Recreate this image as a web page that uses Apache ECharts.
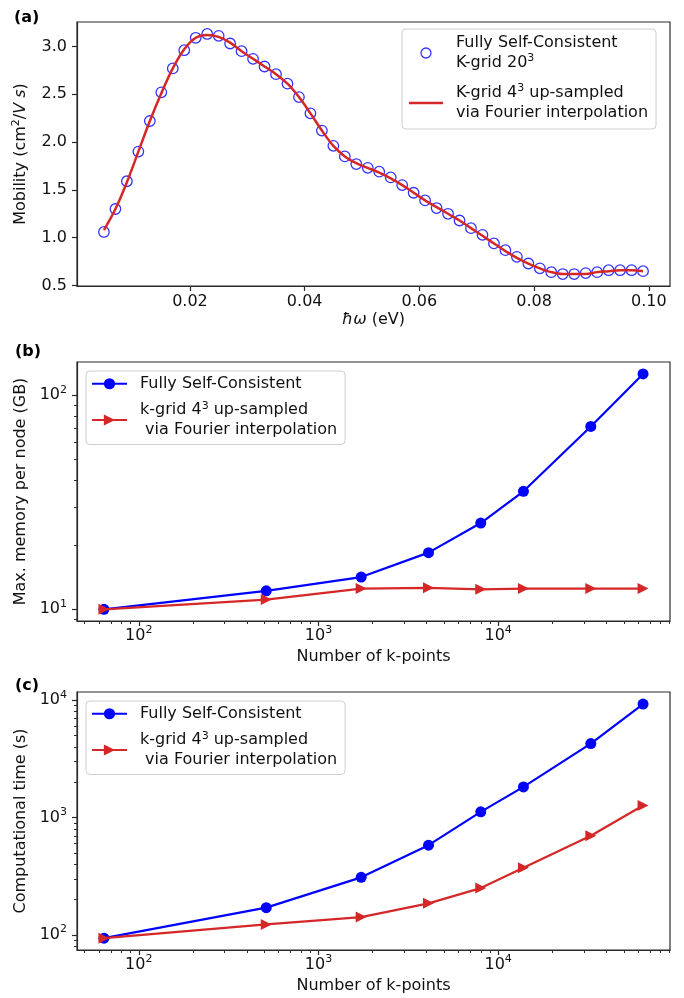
<!DOCTYPE html>
<html>
<head>
<meta charset="utf-8">
<script src="https://cdn.jsdelivr.net/npm/echarts@6/dist/echarts.min.js"></script>
<style>
  html, body { margin: 0; padding: 0; background: #ffffff; }
  #chart { width: 684px; height: 998px; }
</style>
</head>
<body>
<div id="chart"></div>
<script>
// (a) mobility versus phonon energy
const photonEnergy = [0.005, 0.007, 0.009, 0.011, 0.013, 0.015, 0.017, 0.019, 0.021, 0.023,
  0.025, 0.027, 0.029, 0.031, 0.033, 0.035, 0.037, 0.039, 0.041, 0.043,
  0.045, 0.047, 0.049, 0.051, 0.053, 0.055, 0.057, 0.059, 0.061, 0.063,
  0.065, 0.067, 0.069, 0.071, 0.073, 0.075, 0.077, 0.079, 0.081, 0.083,
  0.085, 0.087, 0.089, 0.091, 0.093, 0.095, 0.097, 0.099];
const mobilitySelfConsistent = [1.06, 1.30, 1.59, 1.90, 2.22, 2.52, 2.77, 2.96, 3.09, 3.13,
  3.11, 3.03, 2.95, 2.87, 2.79, 2.71, 2.61, 2.47, 2.30, 2.12,
  1.96, 1.85, 1.77, 1.73, 1.69, 1.63, 1.55, 1.47, 1.39, 1.31,
  1.25, 1.18, 1.10, 1.03, 0.94, 0.87, 0.80, 0.73, 0.68, 0.64,
  0.62, 0.62, 0.63, 0.64, 0.66, 0.66, 0.66, 0.65];
const mobilityFourier = [1.08, 1.30, 1.58, 1.90, 2.22, 2.51, 2.77, 2.97, 3.09, 3.12,
  3.10, 3.04, 2.95, 2.87, 2.79, 2.71, 2.61, 2.47, 2.30, 2.12,
  1.96, 1.85, 1.78, 1.73, 1.68, 1.62, 1.55, 1.47, 1.39, 1.32,
  1.25, 1.18, 1.10, 1.02, 0.94, 0.86, 0.79, 0.73, 0.68, 0.64,
  0.62, 0.62, 0.62, 0.64, 0.65, 0.66, 0.66, 0.65];

// (b), (c) cost versus k-point count
const kPoints = [64, 512, 1728, 4096, 8000, 13824, 32768, 64000];
const memorySelfConsistent = [10.0, 12.2, 14.15, 18.4, 25.3, 35.6, 71.5, 125.8];
const memoryFourier = [10.0, 11.1, 12.5, 12.6, 12.4, 12.5, 12.5, 12.5];
const timeSelfConsistent = [94, 171, 310, 583, 1120, 1828, 4276, 9290];
const timeFourier = [94, 123, 142, 186, 251, 374, 700, 1270];

// tick positions
const energyTicks = [0.02, 0.04, 0.06, 0.08, 0.10];
const mobilityTicks = [0.5, 1.0, 1.5, 2.0, 2.5, 3.0];
const kPointTicks = [100, 1000, 10000];
const kPointMinorTicks = [50, 60, 70, 80, 90,
  200, 300, 400, 500, 600, 700, 800, 900,
  2000, 3000, 4000, 5000, 6000, 7000, 8000, 9000,
  20000, 30000, 40000, 50000, 60000, 70000, 80000, 90000];
const memoryTicks = [10, 100];
const memoryMinorTicks = [9, 20, 30, 40, 50, 60, 70, 80, 90];
const timeTicks = [100, 1000, 10000];
const timeMinorTicks = [80, 90, 200, 300, 400, 500, 600, 700, 800, 900,
  2000, 3000, 4000, 5000, 6000, 7000, 8000, 9000];

const nameA1 = 'Fully Self-Consistent\nK-grid 20³';
const nameA2 = 'K-grid 4³ up-sampled\nvia Fourier interpolation';
const nameB1 = 'Fully Self-Consistent';
const nameB2 = 'k-grid 4³ up-sampled\n via Fourier interpolation';

const FONT = '"DejaVu Sans", sans-serif';
const INK = '#111111';
const SPINE = '#2a2a2a';
const BLUE = '#0000ff';
const RED = '#d62728';
const TRIANGLE_RIGHT = 'path://M0,0L10,5L0,10Z';

const zip = (xs, ys) => xs.map((x, i) => [x, ys[i]]);

// rich-text styles: body text plus a raised, smaller superscript
const SUP_DIGITS = { '²': '2', '³': '3' };
function richSup(lineHeight) {
  return {
    t: { color: INK, fontFamily: FONT, fontSize: 16, lineHeight: lineHeight },
    i: { color: INK, fontFamily: FONT, fontSize: 16, fontStyle: 'italic', lineHeight: lineHeight },
    s: { color: INK, fontFamily: FONT, fontSize: 11, lineHeight: 11, verticalAlign: 'top' }
  };
}
function toRich(text) {
  return text.split('\n').map(line =>
    line.split(/([²³])/).filter(p => p !== '').map(p =>
      SUP_DIGITS[p] ? '{s|' + SUP_DIGITS[p] + '}' : '{t|' + p + '}'
    ).join('')
  ).join('\n');
}
const powerLabel = v => '{t|10}{s|' + Math.round(Math.log10(v)) + '}';

const tickLine = { color: SPINE, width: 1.2 };

function mainAxis(opts) {
  return Object.assign({
    axisLine: { show: true, onZero: false, lineStyle: tickLine },
    axisTick: { show: true, inside: false, length: 5, lineStyle: tickLine, customValues: opts.ticks },
    axisLabel: {
      customValues: opts.ticks, formatter: opts.fmt, margin: opts.margin,
      color: INK, fontFamily: FONT, fontSize: 16, rich: richSup(opts.labelLine || 16)
    },
    splitLine: { show: false },
    minorTick: { show: false },
    nameTextStyle: { color: INK, fontFamily: FONT, fontSize: 16, rich: richSup(20) }
  }, opts.extra);
}

function minorAxis(opts) {
  return Object.assign({
    type: 'log', logBase: 10,
    axisLine: { show: false, onZero: false },
    axisTick: { show: true, inside: false, length: 3, lineStyle: { color: SPINE, width: 1 }, customValues: opts.ticks },
    axisLabel: { show: false },
    splitLine: { show: false }
  }, opts.extra);
}

const legendCommon = {
  orient: 'vertical',
  backgroundColor: 'rgba(255,255,255,0.8)',
  borderColor: '#cfcfcf',
  borderWidth: 1,
  borderRadius: 4,
  selectedMode: false,
  formatter: name => toRich(name)
};
function legendText(lineHeight) {
  return { color: '#000', fontFamily: FONT, fontSize: 16, lineHeight: lineHeight,
    padding: [0, 0, 0, 8], rich: richSup(lineHeight) };
}

const option = {
  animation: false,
  backgroundColor: '#ffffff',
  textStyle: { fontFamily: FONT },
  grid: [
    { left: 77, top: 22, width: 593, height: 264, show: true, borderColor: SPINE, borderWidth: 1.2, outerBoundsMode: 'none', containLabel: false },
    { left: 77, top: 362, width: 593, height: 259, show: true, borderColor: SPINE, borderWidth: 1.2, outerBoundsMode: 'none', containLabel: false },
    { left: 77, top: 692, width: 593, height: 258, show: true, borderColor: SPINE, borderWidth: 1.2, outerBoundsMode: 'none', containLabel: false }
  ],
  xAxis: [
    mainAxis({ ticks: energyTicks, fmt: v => '{t|' + v.toFixed(2) + '}', margin: 8, extra: {
      gridIndex: 0, type: 'value', position: 'bottom', min: 0.0003, max: 0.1037,
      name: '{i|ħω}{t| (eV)}', nameLocation: 'middle', nameGap: 24 } }),
    mainAxis({ ticks: kPointTicks, fmt: powerLabel, margin: 4, labelLine: 22, extra: {
      gridIndex: 1, type: 'log', logBase: 10, position: 'bottom', min: 45.3, max: 90400,
      name: '{t|Number of k-points}', nameLocation: 'middle', nameGap: 26 } }),
    minorAxis({ ticks: kPointMinorTicks, extra: { gridIndex: 1, position: 'bottom', min: 45.3, max: 90400 } }),
    mainAxis({ ticks: kPointTicks, fmt: powerLabel, margin: 4, labelLine: 22, extra: {
      gridIndex: 2, type: 'log', logBase: 10, position: 'bottom', min: 45.3, max: 90400,
      name: '{t|Number of k-points}', nameLocation: 'middle', nameGap: 26 } }),
    minorAxis({ ticks: kPointMinorTicks, extra: { gridIndex: 2, position: 'bottom', min: 45.3, max: 90400 } })
  ],
  yAxis: [
    mainAxis({ ticks: mobilityTicks, fmt: v => '{t|' + v.toFixed(1) + '}', margin: 10, extra: {
      gridIndex: 0, type: 'value', position: 'left', min: 0.495, max: 3.255,
      name: '{t|Mobility (cm}{s|2}{t|/}{i|V s}{t|)}', nameLocation: 'middle', nameRotate: 90, nameGap: 46 } }),
    mainAxis({ ticks: memoryTicks, fmt: powerLabel, margin: 10, labelLine: 22, extra: {
      gridIndex: 1, type: 'log', logBase: 10, position: 'left', min: 8.82, max: 143,
      name: '{t|Max. memory per node (GB)}', nameLocation: 'middle', nameRotate: 90, nameGap: 46 } }),
    minorAxis({ ticks: memoryMinorTicks, extra: { gridIndex: 1, position: 'left', min: 8.82, max: 143 } }),
    mainAxis({ ticks: timeTicks, fmt: powerLabel, margin: 10, labelLine: 22, extra: {
      gridIndex: 2, type: 'log', logBase: 10, position: 'left', min: 74.5, max: 11765,
      name: '{t|Computational time (s)}', nameLocation: 'middle', nameRotate: 90, nameGap: 46 } }),
    minorAxis({ ticks: timeMinorTicks, extra: { gridIndex: 2, position: 'left', min: 74.5, max: 11765 } })
  ],
  legend: [
    Object.assign({}, legendCommon, {
      left: 402, top: 29, padding: [4, 8, 6, 7], itemGap: 10, itemWidth: 34, itemHeight: 10,
      textStyle: legendText(20),
      data: [
        { name: nameA1, icon: 'circle', itemStyle: { color: 'rgba(0,0,0,0)', borderColor: BLUE, borderWidth: 1.3 } },
        { name: nameA2, icon: 'path://M0,0L34,0L34,2.4L0,2.4Z', itemStyle: { color: RED, borderWidth: 0 } }
      ]
    }),
    Object.assign({}, legendCommon, {
      left: 86, top: 371, padding: [3, 8, 5, 5], itemGap: 7, itemWidth: 35, itemHeight: 14,
      textStyle: legendText(19.5),
      data: [nameB1, nameB2]
    }),
    Object.assign({}, legendCommon, {
      left: 86, top: 701, padding: [3, 8, 5, 5], itemGap: 7, itemWidth: 35, itemHeight: 14,
      textStyle: legendText(19.5),
      data: [nameB1, nameB2]
    })
  ],
  graphic: [
    { type: 'text', left: 14, top: 10, style: { text: '(a)', font: 'bold 16px "DejaVu Sans"', fill: '#000' } },
    { type: 'text', left: 15, top: 344, style: { text: '(b)', font: 'bold 16px "DejaVu Sans"', fill: '#000' } },
    { type: 'text', left: 15, top: 678, style: { text: '(c)', font: 'bold 16px "DejaVu Sans"', fill: '#000' } }
  ],
  series: [
    {
      name: nameA1, type: 'scatter', xAxisIndex: 0, yAxisIndex: 0,
      data: zip(photonEnergy, mobilitySelfConsistent),
      symbol: 'circle', symbolSize: 10.5,
      itemStyle: { color: 'rgba(0,0,0,0)', borderColor: BLUE, borderWidth: 1.3 },
      z: 2
    },
    {
      name: nameA2, type: 'line', xAxisIndex: 0, yAxisIndex: 0,
      data: zip(photonEnergy, mobilityFourier),
      symbol: 'none', showSymbol: false, smooth: 0.35,
      lineStyle: { color: RED, width: 2.5 }, itemStyle: { color: RED },
      z: 3
    },
    {
      name: nameB1, type: 'line', xAxisIndex: 1, yAxisIndex: 1,
      data: zip(kPoints, memorySelfConsistent),
      symbol: 'circle', symbolSize: 11, showAllSymbol: true,
      lineStyle: { color: BLUE, width: 2.2 }, itemStyle: { color: BLUE },
      z: 2
    },
    {
      name: nameB2, type: 'line', xAxisIndex: 1, yAxisIndex: 1,
      data: zip(kPoints, memoryFourier),
      symbol: TRIANGLE_RIGHT, symbolSize: [11, 11], showAllSymbol: true,
      lineStyle: { color: RED, width: 2.2 }, itemStyle: { color: RED },
      z: 3
    },
    {
      name: nameB1, type: 'line', xAxisIndex: 3, yAxisIndex: 3,
      data: zip(kPoints, timeSelfConsistent),
      symbol: 'circle', symbolSize: 11, showAllSymbol: true,
      lineStyle: { color: BLUE, width: 2.2 }, itemStyle: { color: BLUE },
      z: 2
    },
    {
      name: nameB2, type: 'line', xAxisIndex: 3, yAxisIndex: 3,
      data: zip(kPoints, timeFourier),
      symbol: TRIANGLE_RIGHT, symbolSize: [11, 11], showAllSymbol: true,
      lineStyle: { color: RED, width: 2.2 }, itemStyle: { color: RED },
      z: 3
    }
  ]
};

const chart = echarts.init(document.getElementById('chart'), null, { renderer: 'canvas' });
chart.setOption(option);
</script>
</body>
</html>
